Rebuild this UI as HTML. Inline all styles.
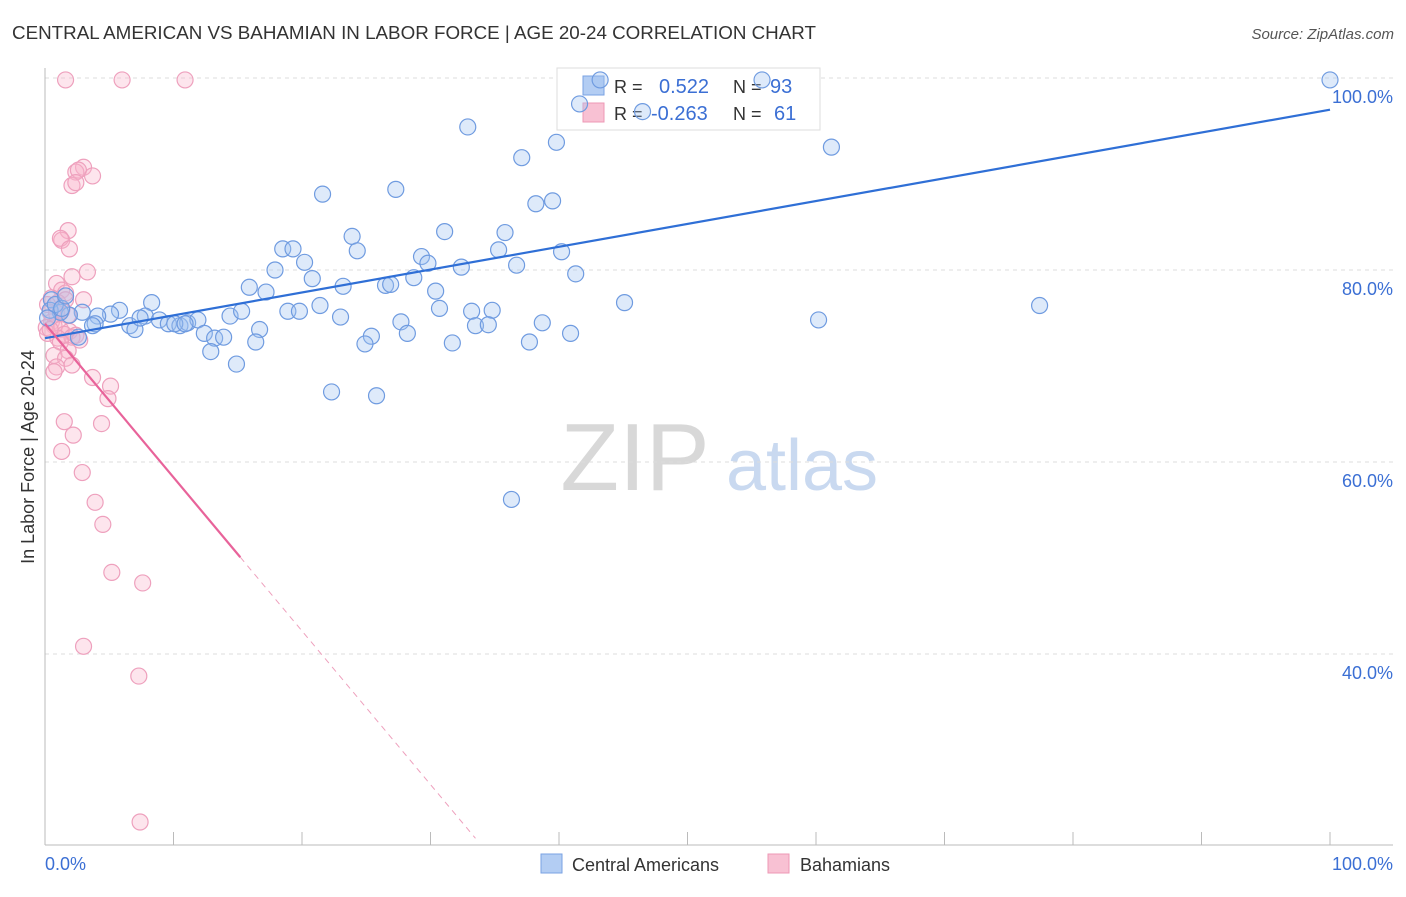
<!DOCTYPE html>
<html><head><meta charset="utf-8"><style>
body{margin:0;background:#fff;font-family:"Liberation Sans",sans-serif;}
svg text{font-family:"Liberation Sans",sans-serif;}
</style></head><body>
<svg id="chart" width="1406" height="892">
<text x="12" y="39" font-size="18.8" fill="#333">CENTRAL AMERICAN VS BAHAMIAN IN LABOR FORCE | AGE 20-24 CORRELATION CHART</text>
<text x="1394" y="39" font-size="15" fill="#555" text-anchor="end" font-style="italic">Source: ZipAtlas.com</text>
<g>
<text x="635" y="490" font-size="96" fill="#d8d8d8" font-family="Liberation Serif" text-anchor="middle">ZIP</text>
<text x="802" y="490" font-size="72" fill="#c9d9f0" text-anchor="middle">atlas</text>
</g>
<g id="grid"></g>
<g id="axes"></g>
<g>
<rect x="557" y="68" width="263" height="62" fill="#fff" stroke="#ddd"/>
<rect x="583" y="76" width="21" height="19" fill="#b3cdf3" stroke="#7aa2e3"/>
<rect x="583" y="103" width="21" height="19" fill="#f8c1d3" stroke="#ee98b6"/>
<text x="614" y="93" font-size="18" fill="#333">R =</text><text x="659" y="93" font-size="20" fill="#3b6fd4">0.522</text>
<text x="733" y="93" font-size="18" fill="#333">N =</text><text x="770" y="93" font-size="20" fill="#3b6fd4">93</text>
<text x="614" y="120" font-size="18" fill="#333">R =</text><text x="651" y="120" font-size="20" fill="#3b6fd4">-0.263</text>
<text x="733" y="120" font-size="18" fill="#333">N =</text><text x="774" y="120" font-size="20" fill="#3b6fd4">61</text>
</g>
<g id="marks"></g>
<text x="0" y="0" transform="translate(34,457) rotate(-90)" font-size="18" fill="#333" text-anchor="middle">In Labor Force | Age 20-24</text>
<g>
<rect x="541" y="854" width="21" height="19" fill="#b3cdf3" stroke="#7aa2e3"/>
<text x="572" y="871" font-size="18" fill="#333">Central Americans</text>
<rect x="768" y="854" width="21" height="19" fill="#f8c1d3" stroke="#ee98b6"/>
<text x="800" y="871" font-size="18" fill="#333">Bahamians</text>
</g>
</svg>
<script>
const blueX=[43.2,55.8,100,41.6,46.5,32.9,37.1,39.8,61.2,21.6,27.3,38.2,39.5,23.9,31.1,35.8,18.5,19.3,24.3,35.3,40.2,29.3,20.2,29.8,17.9,32.4,36.7,41.3,20.8,15.9,23.2,26.5,26.9,28.7,30.4,17.2,45.1,77.4,8.3,5.8,5.1,4.1,2.9,1.9,1.2,0.5,0.4,7.8,8.9,9.6,10.5,11.1,11.9,14.4,15.3,18.9,19.8,21.4,23.0,30.7,33.2,34.8,60.2,38.7,27.7,33.5,34.5,6.6,7.0,3.9,2.6,12.4,13.2,13.9,16.7,16.4,25.4,28.2,24.9,31.7,37.7,40.9,12.9,14.9,22.3,25.8,36.3,0.8,1.3,0.2,1.6,3.7,7.4,10.1,10.9];
const blueY=[99.8,99.8,99.8,97.3,96.5,94.9,91.7,93.3,92.8,87.9,88.4,86.9,87.2,83.5,84.0,83.9,82.2,82.2,82.0,82.1,81.9,81.4,80.8,80.7,80.0,80.3,80.5,79.6,79.1,78.2,78.3,78.4,78.5,79.2,77.8,77.7,76.6,76.3,76.6,75.8,75.4,75.2,75.6,75.3,75.6,76.9,75.8,75.2,74.8,74.4,74.2,74.5,74.8,75.2,75.7,75.7,75.7,76.3,75.1,76.0,75.7,75.8,74.8,74.5,74.6,74.2,74.3,74.2,73.8,74.4,73.0,73.4,72.9,73.0,73.8,72.5,73.1,73.4,72.3,72.4,72.5,73.4,71.5,70.2,67.3,66.9,56.1,76.4,76.0,75.0,77.3,74.2,75.0,74.4,74.4];
const pinkX=[1.6,6.0,10.9,3.0,2.4,2.6,3.7,2.1,2.4,1.8,1.3,1.2,1.9,3.3,2.1,0.9,1.3,1.6,3.0,0.5,1.0,1.6,0.2,0.4,0.9,1.8,0.5,0.7,0.1,1.2,1.9,0.2,1.5,2.4,1.0,2.1,2.7,1.2,1.8,0.7,1.6,0.9,2.1,0.7,3.7,5.1,4.9,1.5,4.4,2.2,1.3,2.9,3.9,4.5,5.2,7.6,3.0,7.3,7.4,0.4,1.3];
const pinkY=[99.8,99.8,99.8,90.7,90.2,90.4,89.8,88.8,89.1,84.1,83.1,83.3,82.2,79.8,79.3,78.6,77.9,77.6,76.9,77.1,76.6,76.9,76.4,75.6,75.5,75.3,74.6,74.2,74.0,73.8,73.6,73.4,73.3,73.2,72.9,73.0,72.7,72.5,71.6,71.1,70.8,69.9,70.1,69.4,68.8,67.9,66.6,64.2,64.0,62.8,61.1,58.9,55.8,53.5,48.5,47.4,40.8,37.7,22.5,73.8,75.8];
const yTicks=[100,80,60,40];
const yTickLabels=["100.0%","80.0%","60.0%","40.0%"];
const xTicks=[0,10,20,30,40,50,60,70,80,90,100];
const blueFit=[72.9,96.7];
const pinkFit=[74.4,-1.6];
const pinkSolidEnd=15.2, pinkDashEnd=33.5;

const sx=v=>45+v*12.85;
const sy=v=>78+(100-v)*9.6;
const NS="http://www.w3.org/2000/svg";
function mk(tag,attrs,parent){const e=document.createElementNS(NS,tag);for(const k in attrs)e.setAttribute(k,attrs[k]);document.getElementById(parent).appendChild(e);return e;}

yTicks.forEach((t,i)=>{
  const l=mk('line',{x1:45,x2:1393,y1:sy(t),y2:sy(t),stroke:'#ddd','stroke-dasharray':'4,4'},'grid');
  
  
  const tx=mk('text',{x:1393,y:sy(t)+25,'font-size':18,fill:'#3b6fd4','text-anchor':'end'},'axes');
  tx.textContent=yTickLabels[i];
  
  
});
const ax=mk('line',{x1:45,x2:45,y1:68,y2:845,stroke:'#bbb'},'axes');


const bx=mk('line',{x1:45,x2:1393,y1:845,y2:845,stroke:'#bbb'},'axes');


xTicks.forEach(t=>{
  const l=mk('line',{x1:sx(t),x2:sx(t),y1:832,y2:845,stroke:'#bbb'},'axes');
  
  
});
let t0=mk('text',{x:45,y:870,'font-size':18,fill:'#3b6fd4'},'axes');t0.textContent='0.0%';


let t1=mk('text',{x:1393,y:870,'font-size':18,fill:'#3b6fd4','text-anchor':'end'},'axes');t1.textContent='100.0%';



pinkX.forEach((x,i)=>{
  const c=mk('circle',{cx:sx(x),cy:sy(pinkY[i]),r:8,fill:'rgba(248,180,204,0.35)',stroke:'#eea0bd','stroke-width':1.2},'marks');
  
  
});
blueX.forEach((x,i)=>{
  const c=mk('circle',{cx:sx(x),cy:sy(blueY[i]),r:8,fill:'rgba(160,195,240,0.35)',stroke:'#6f9be0','stroke-width':1.2},'marks');
  
  
});
const bl=mk('line',{x1:sx(0),y1:sy(blueFit[0]),x2:sx(100),y2:sy(blueFit[1]),stroke:'#2f6fd6','stroke-width':2.2},'marks');


const pf=x=>pinkFit[0]+pinkFit[1]*x;
const pl=mk('line',{x1:sx(0),y1:sy(pf(0)),x2:sx(pinkSolidEnd),y2:sy(pf(pinkSolidEnd)),stroke:'#e8639a','stroke-width':2.2},'marks');


const pd=mk('line',{x1:sx(pinkSolidEnd),y1:sy(pf(pinkSolidEnd)),x2:sx(pinkDashEnd),y2:sy(pf(pinkDashEnd)),stroke:'#eea0bd','stroke-width':1,'stroke-dasharray':'6,5'},'marks');


</script>
</body></html>
